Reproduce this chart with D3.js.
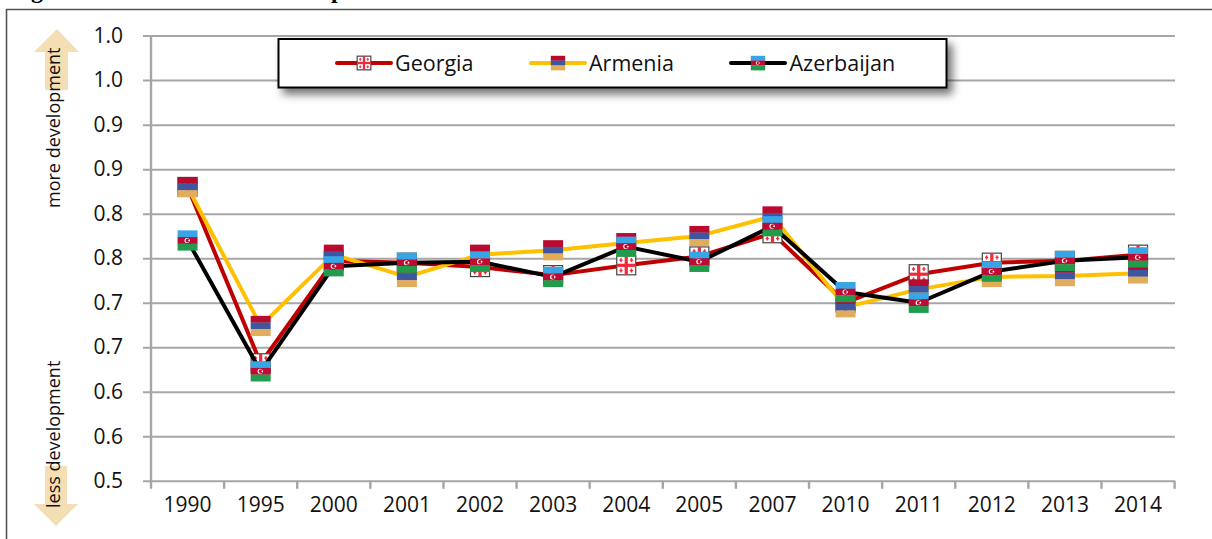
<!DOCTYPE html>
<html>
<head>
<meta charset="utf-8">
<script src="https://cdn.jsdelivr.net/npm/d3@7"></script>
<style>
html,body{margin:0;padding:0;background:#fff;overflow:hidden}
svg{display:block}
text{font-family:"Open Sans",sans-serif;fill:#111}
</style>
</head>
<body>
<div id="chart"></div>
<script>
const years = ["1990","1995","2000","2001","2002","2003","2004","2005","2007","2010","2011","2012","2013","2014"];
const georgia    = [0.830,0.632,0.747,0.745,0.740,0.731,0.742,0.752,0.778,0.700,0.732,0.745,0.747,0.754];
const armenia    = [0.830,0.674,0.754,0.729,0.754,0.759,0.767,0.775,0.797,0.695,0.715,0.729,0.730,0.733];
const azerbaijan = [0.770,0.623,0.741,0.745,0.746,0.729,0.763,0.746,0.786,0.712,0.700,0.735,0.747,0.751];
const yTicks = [0.5,0.55,0.6,0.65,0.7,0.75,0.8,0.85,0.9,0.95,1.0];
const yTickLabels = ["0.5","0.6","0.6","0.7","0.7","0.8","0.8","0.9","0.9","1.0","1.0"];
const seriesNames = ["Georgia","Armenia","Azerbaijan"];
const seriesColors = ["#c00000","#ffc000","#000000"];
const seriesValues = [georgia,armenia,azerbaijan];
const legendLabelX = [395,589,789.5];
const legendLineX = [337,531,731];

const W=1212,H=539;
const svg=d3.select("#chart").append("svg").attr("width",W).attr("height",H);
const defs=svg.append("defs");
const f=defs.append("filter").attr("id","sh").attr("x","-5%").attr("y","-30%").attr("width","112%").attr("height","170%");
f.append("feDropShadow").attr("dx",5).attr("dy",6).attr("stdDeviation",4).attr("flood-color","#000").attr("flood-opacity",0.55);

const x=d3.scaleBand().domain(years).range([151,1174.6]);
const y=d3.scaleLinear().domain([0.5,1.0]).range([480.8,35.6]);
const GRID="#a6a6a6";

// clipped title fragments at the page top
[["g",31],["p",331]].forEach(([t,px])=>svg.append("text").attr("x",px).attr("y",-2)
  .style("font-family","'Liberation Serif',serif").style("font-weight","700").style("font-size","24px").style("fill","#000").text(t));

// frame
svg.append("path").attr("d",`M6.5,${H} V9.5 H${W}`).attr("fill","none").attr("stroke","#555").attr("stroke-width",1.6);

// direction arrows
const arrowFill="#f4deb4";
svg.append("path").attr("fill",arrowFill).attr("d","M57,29 L79,52 L68,52 L68,90 L45,90 L45,52 L34,52 Z");
svg.append("path").attr("fill",arrowFill).attr("d","M45,466 L67,466 L67,504 L78,504 L56,526 L34,504 L45,504 Z");
svg.append("text").attr("transform","translate(60,208) rotate(-90)").style("font-size","18px").text("more development");
svg.append("text").attr("transform","translate(60,508) rotate(-90)").style("font-size","18px").text("less development");

// y axis with gridlines
const yGrid=svg.append("g").attr("transform","translate(151,0)")
  .call(d3.axisLeft(y).tickValues(yTicks).tickSize(8).tickFormat((d,i)=>yTickLabels[i]));
yGrid.select(".domain").remove();
yGrid.selectAll("line").attr("x2",1024).attr("x1",-8).attr("stroke",GRID).attr("stroke-width",2);
yGrid.selectAll("text").attr("x",-28).style("font-size","21px").style("font-family","'Open Sans',sans-serif").style("fill","#111");
svg.append("line").attr("x1",151).attr("x2",151).attr("y1",y(1)).attr("y2",y(0.5)+8).attr("stroke",GRID).attr("stroke-width",2.4);

// x axis
const xAxis=svg.append("g").attr("transform",`translate(0,${y(0.5)})`)
  .call(d3.axisBottom(x).tickSize(0).tickPadding(16));
xAxis.select(".domain").remove();
xAxis.selectAll("text").style("font-size","21px").style("font-family","'Open Sans',sans-serif").style("fill","#111");
xAxis.selectAll("line.b").data(years).enter().append("line").attr("class","b")
  .attr("x1",d=>x(d)+x.step()).attr("x2",d=>x(d)+x.step()).attr("y1",0).attr("y2",8).attr("stroke",GRID).attr("stroke-width",2.4);

// flag markers
function flagGeorgia(g,s){
  const w=19*s,h=19*s;
  g.append("rect").attr("x",-w/2).attr("y",-h/2).attr("width",w).attr("height",h).attr("fill","#fff").attr("stroke","#444").attr("stroke-width",1.2);
  g.append("rect").attr("x",-1.6*s).attr("y",-h/2).attr("width",3.2*s).attr("height",h).attr("fill","#ee2a3c");
  g.append("rect").attr("x",-w/2).attr("y",-1.6*s).attr("width",w).attr("height",3.2*s).attr("fill","#ee2a3c");
  [[-1,-1],[1,-1],[-1,1],[1,1]].forEach(([a,b])=>{
    g.append("rect").attr("x",a*5.2*s-0.7*s).attr("y",b*5.2*s-2*s).attr("width",1.4*s).attr("height",4*s).attr("fill","#ee2a3c");
    g.append("rect").attr("x",a*5.2*s-1.6*s).attr("y",b*5.2*s-0.7*s).attr("width",3.2*s).attr("height",1.4*s).attr("fill","#ee2a3c");
  });
}
function stripes(g,s,cols){
  const w=20*s,h=20*s;
  cols.forEach((c,i)=>g.append("rect").attr("x",-w/2).attr("y",-h/2+i*h/3).attr("width",w).attr("height",h/3+0.2).attr("fill",c));
}
function flagArmenia(g,s){stripes(g,s,["#b90a30","#3f56a0","#e2ad5a"]);}
function flagAzerbaijan(g,s){
  stripes(g,s,["#37a5e6","#bf0a32","#229c4c"]);
  g.append("circle").attr("cx",-0.6*s).attr("r",2.5*s).attr("fill","#fff");
  g.append("circle").attr("cx",0.1*s).attr("r",2*s).attr("fill","#bf0a32");
  g.append("circle").attr("cx",1.6*s).attr("r",0.9*s).attr("fill","#fff");
}
const flags=[flagGeorgia,flagArmenia,flagAzerbaijan];

// series
const line=d3.line().x((d,i)=>x(years[i])+x.bandwidth()/2).y(d=>y(d));
seriesValues.forEach((vals,si)=>{
  const g=svg.append("g");
  g.append("path").datum(vals).attr("d",line).attr("fill","none").attr("stroke",seriesColors[si]).attr("stroke-width",4).attr("stroke-linejoin","round");
  g.selectAll("g.m").data(vals).enter().append("g").attr("class","m")
    .attr("transform",(d,i)=>`translate(${x(years[i])+x.bandwidth()/2},${y(d)})`)
    .each(function(){flags[si](d3.select(this),1);});
});

// legend
const lg=svg.append("g");
lg.append("rect").attr("x",278.5).attr("y",39).attr("width",668).attr("height",48.5).attr("fill","#fff").attr("stroke","#000").attr("stroke-width",2).attr("filter","url(#sh)");
seriesNames.forEach((n,i)=>{
  const lx=legendLineX[i];
  lg.append("line").attr("x1",lx).attr("x2",lx+54).attr("y1",63).attr("y2",63).attr("stroke",seriesColors[i]).attr("stroke-width",4).attr("stroke-linecap","round");
  const m=lg.append("g").attr("transform",`translate(${lx+27},63)`);
  flags[i](m,0.72);
  lg.append("text").attr("x",legendLabelX[i]).attr("y",70.5).style("font-size","21.5px").text(n);
});
</script>
</body>
</html>
